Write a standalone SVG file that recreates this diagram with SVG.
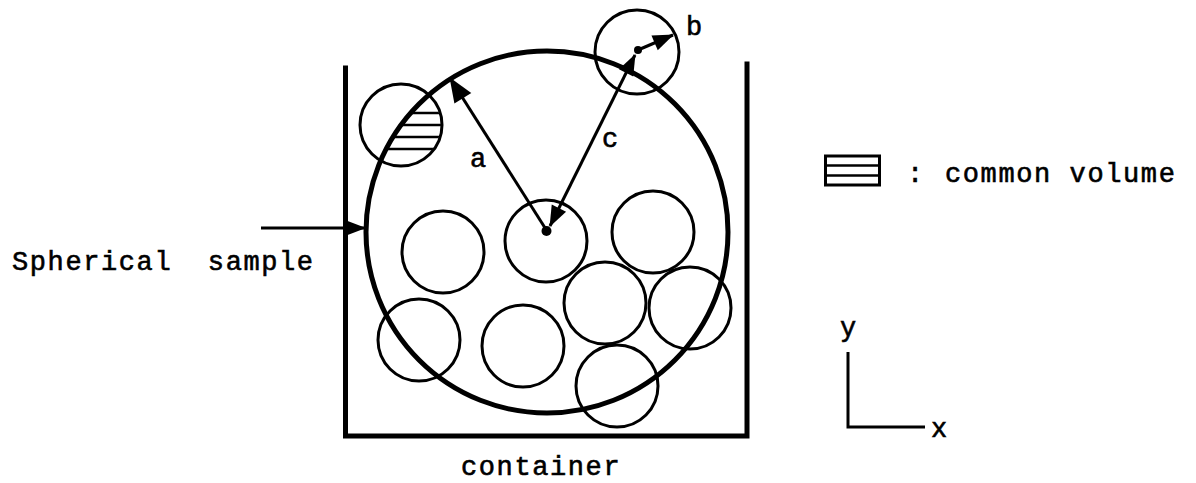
<svg xmlns="http://www.w3.org/2000/svg" width="1196" height="483" viewBox="0 0 1196 483">
<style>
.thin{fill:none;stroke:#000;stroke-width:3}
.thick{fill:none;stroke:#000;stroke-width:5}
.wall{fill:none;stroke:#000;stroke-width:5;stroke-linecap:square}
.ln{fill:none;stroke:#000;stroke-width:3}
.hatch{stroke:#000;stroke-width:2.5}
text{font-family:"Liberation Mono","Courier New",monospace;font-size:27px;font-weight:normal;letter-spacing:1.6px;fill:#000;stroke:#000;stroke-width:0.6}
.lbl{letter-spacing:0}
</style>
<defs>
<marker id="ah" viewBox="-26 -11 28 22" refX="0" refY="0" markerWidth="28" markerHeight="22" markerUnits="userSpaceOnUse" orient="auto-start-reverse">
<path d="M1,0 L-24,-10 L-24,10 Z" fill="#000"/>
</marker>
<marker id="ahs" viewBox="-22 -9 24 18" refX="0" refY="0" markerWidth="24" markerHeight="18" markerUnits="userSpaceOnUse" orient="auto-start-reverse">
<path d="M1,0 L-20,-8 L-20,8 Z" fill="#000"/>
</marker>
<clipPath id="common">
<circle cx="547" cy="232" r="181"/>
</clipPath>
<clipPath id="pc"><circle cx="401" cy="125" r="40"/></clipPath>
</defs>

<g id="container">
<path class="wall" d="M345.5,68 V436 H747 V64"/>
</g>

<g id="sample">
<circle class="thick" cx="547" cy="232" r="181"/>
</g>

<g id="particles">
<g id="p-hatched">
<circle class="thin" cx="401" cy="125" r="41"/>
<g clip-path="url(#common)">
<g clip-path="url(#pc)">
<line class="hatch" x1="350" y1="113" x2="450" y2="113"/>
<line class="hatch" x1="350" y1="125" x2="450" y2="125"/>
<line class="hatch" x1="350" y1="137" x2="450" y2="137"/>
<line class="hatch" x1="350" y1="149" x2="450" y2="149"/>
</g>
</g>
</g>
<circle id="p2" class="thin" cx="443" cy="252" r="41"/>
<circle id="p3" class="thin" cx="546" cy="241" r="41"/>
<circle id="p4" class="thin" cx="653" cy="232" r="41"/>
<circle id="p5" class="thin" cx="605" cy="303" r="41"/>
<circle id="p6" class="thin" cx="690" cy="308" r="41"/>
<circle id="p7" class="thin" cx="419" cy="340" r="41"/>
<circle id="p8" class="thin" cx="523" cy="346" r="41"/>
<circle id="p9" class="thin" cx="617" cy="386" r="41"/>
<circle id="p-b" class="thin" cx="637" cy="52" r="42"/>
</g>

<g id="connectors">
<line class="ln" x1="547" y1="231" x2="450" y2="78" marker-end="url(#ah)"/>
<line class="ln" x1="550" y1="226" x2="635" y2="55" marker-start="url(#ahs)" marker-end="url(#ahs)"/>
<line class="ln" x1="638" y1="50" x2="673" y2="35" marker-end="url(#ahs)"/>
<line class="ln" x1="261" y1="228" x2="365" y2="228" marker-end="url(#ahs)"/>
<circle cx="546.5" cy="231" r="5" fill="#000"/>
<circle cx="638" cy="50" r="4" fill="#000"/>
</g>

<g id="labels">
<text class="lbl" x="478" y="167" text-anchor="middle">a</text>
<text class="lbl" x="610" y="147" text-anchor="middle">c</text>
<text class="lbl" x="694" y="35" text-anchor="middle">b</text>
<text x="12" y="270" xml:space="preserve">Spherical  sample</text>
<text x="461" y="475">container</text>
</g>

<g id="legend">
<rect x="825.5" y="156" width="54" height="29" fill="none" stroke="#000" stroke-width="3"/>
<line class="hatch" x1="826" y1="165.5" x2="879" y2="165.5"/>
<line class="hatch" x1="826" y1="175.5" x2="879" y2="175.5"/>
<text class="lbl" x="915" y="182" text-anchor="middle">:</text>
<text x="945" y="182">common volume</text>
</g>

<g id="axes">
<path class="ln" d="M848,352 V427 H925"/>
<text class="lbl" x="848" y="336" text-anchor="middle">y</text>
<text class="lbl" x="939" y="437" text-anchor="middle">x</text>
</g>
</svg>
